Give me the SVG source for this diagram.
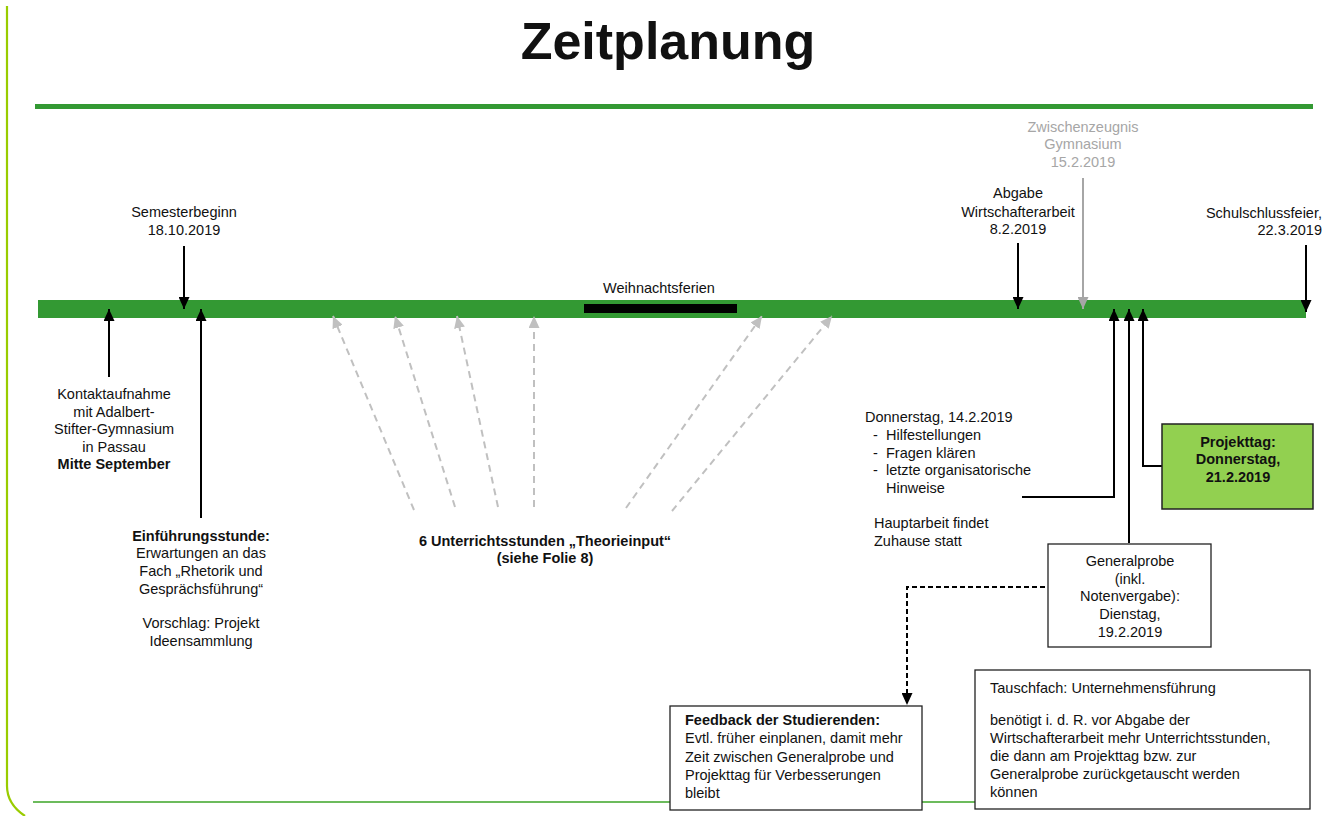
<svg xmlns="http://www.w3.org/2000/svg" width="1343" height="816" viewBox="0 0 1343 816">
<style>
text{font-family:"Liberation Sans",Arial,sans-serif;font-size:14.5px;fill:#111}
.b{font-weight:bold}
.m{text-anchor:middle}
.e{text-anchor:end}
.g{fill:#a6a6a6}
.ln{stroke:#000;stroke-width:2;fill:none}
.dl{stroke:#c0c0c0;stroke-width:2;fill:none;stroke-dasharray:7,5}
.box{fill:#fff;stroke:#222;stroke-width:1.3}
</style>
<defs>
<marker id="ab" viewBox="0 0 12 11" markerWidth="12" markerHeight="11" refX="12" refY="5.5" orient="auto" markerUnits="userSpaceOnUse"><path d="M0,0 L12,5.5 L0,11 z" fill="#000"/></marker>
<marker id="ag" viewBox="0 0 12 11" markerWidth="12" markerHeight="11" refX="12" refY="5.5" orient="auto" markerUnits="userSpaceOnUse"><path d="M0,0 L12,5.5 L0,11 z" fill="#a6a6a6"/></marker>
<marker id="al" viewBox="0 0 12 11" markerWidth="12" markerHeight="11" refX="12" refY="5.5" orient="auto" markerUnits="userSpaceOnUse"><path d="M0,0 L12,5.5 L0,11 z" fill="#c0c0c0"/></marker>
</defs>
<rect width="1343" height="816" fill="#fff"/>
<g id="frame">
<path d="M7,6 V786 Q7,804 25,816" stroke="#99cc00" stroke-width="2.2" fill="none"/>
<line x1="33" y1="802" x2="1305" y2="802" stroke="#6cbb5c" stroke-width="2"/>
<rect x="35" y="104" width="1278" height="5" fill="#339933"/>
</g>
<text class="b m" x="668" y="59" style="font-size:52px">Zeitplanung</text>
<g id="timeline">
<rect x="38" y="300" width="1268" height="18" fill="#339933"/>
<rect x="584" y="304" width="153" height="9" fill="#000"/>
<text class="m" x="659" y="293">Weihnachtsferien</text>
</g>
<g id="connectors">
<line class="ln" x1="184" y1="246" x2="184" y2="309" marker-end="url(#ab)"/>
<line class="ln" x1="109" y1="377" x2="109" y2="309" marker-end="url(#ab)"/>
<line class="ln" x1="201" y1="518" x2="201" y2="309" marker-end="url(#ab)"/>
<line class="dl" x1="414" y1="510" x2="333" y2="316" marker-end="url(#al)"/>
<line class="dl" x1="455" y1="507" x2="395" y2="316" marker-end="url(#al)"/>
<line class="dl" x1="498" y1="507" x2="457" y2="316" marker-end="url(#al)"/>
<line class="dl" x1="534" y1="507" x2="534" y2="316" marker-end="url(#al)"/>
<line class="dl" x1="626" y1="508" x2="762" y2="316" marker-end="url(#al)"/>
<line class="dl" x1="672" y1="511" x2="832" y2="316" marker-end="url(#al)"/>
<line class="ln" x1="1018" y1="243" x2="1018" y2="309" marker-end="url(#ab)"/>
<line x1="1083" y1="178" x2="1083" y2="309" stroke="#a6a6a6" stroke-width="2" marker-end="url(#ag)"/>
<line class="ln" x1="1306" y1="245" x2="1306" y2="312" marker-end="url(#ab)"/>
<polyline class="ln" points="1022,497 1114,497 1114,309" marker-end="url(#ab)"/>
<line class="ln" x1="1129" y1="543" x2="1129" y2="309" marker-end="url(#ab)"/>
<polyline class="ln" points="1162,466 1143,466 1143,309" marker-end="url(#ab)"/>
<polyline points="1045,587 907,587 907,705" stroke="#000" stroke-width="2" fill="none" stroke-dasharray="5,3" marker-end="url(#ab)"/>
</g>
<g id="semesterbeginn">
<text class="m" x="184" y="217">Semesterbeginn</text>
<text class="m" x="184" y="235">18.10.2019</text>
</g>
<g id="kontaktaufnahme">
<text class="m" x="114" y="399">Kontaktaufnahme</text>
<text class="m" x="114" y="417">mit Adalbert-</text>
<text class="m" x="114" y="434">Stifter-Gymnasium</text>
<text class="m" x="114" y="452">in Passau</text>
<text class="b m" x="114" y="469">Mitte September</text>
</g>
<g id="einfuehrung">
<text class="b m" x="201" y="541">Einführungsstunde:</text>
<text class="m" x="201" y="558">Erwartungen an das</text>
<text class="m" x="201" y="576">Fach „Rhetorik und</text>
<text class="m" x="201" y="594">Gesprächsführung“</text>
<text class="m" x="201" y="628">Vorschlag: Projekt</text>
<text class="m" x="201" y="646">Ideensammlung</text>
</g>
<g id="theorieinput">
<text class="b m" x="545" y="546">6 Unterrichtsstunden „Theorieinput“</text>
<text class="b m" x="545" y="563">(siehe Folie 8)</text>
</g>
<g id="abgabe">
<text class="m" x="1018" y="198">Abgabe</text>
<text class="m" x="1018" y="217">Wirtschafterarbeit</text>
<text class="m" x="1018" y="234">8.2.2019</text>
</g>
<g id="zwischenzeugnis">
<text class="m g" x="1083" y="132">Zwischenzeugnis</text>
<text class="m g" x="1083" y="149">Gymnasium</text>
<text class="m g" x="1083" y="167">15.2.2019</text>
</g>
<g id="schulschluss">
<text class="e" x="1322" y="218">Schulschlussfeier,</text>
<text class="e" x="1322" y="235">22.3.2019</text>
</g>
<g id="donnerstag">
<text x="865" y="422">Donnerstag, 14.2.2019</text>
<text x="873" y="440">-</text><text x="886" y="440">Hilfestellungen</text>
<text x="873" y="458">-</text><text x="886" y="458">Fragen klären</text>
<text x="873" y="475">-</text><text x="886" y="475">letzte organisatorische</text>
<text x="886" y="493">Hinweise</text>
<text x="874" y="528">Hauptarbeit findet</text>
<text x="874" y="546">Zuhause statt</text>
</g>
<g id="projekttag">
<rect x="1162" y="424" width="151" height="85" fill="#92d050" stroke="#222" stroke-width="1.5"/>
<text class="b m" x="1238" y="447">Projekttag:</text>
<text class="b m" x="1238" y="464">Donnerstag,</text>
<text class="b m" x="1238" y="482">21.2.2019</text>
</g>
<g id="generalprobe">
<rect class="box" x="1048" y="544" width="163" height="103"/>
<text class="m" x="1130" y="566">Generalprobe</text>
<text class="m" x="1130" y="584">(inkl.</text>
<text class="m" x="1130" y="601">Notenvergabe):</text>
<text class="m" x="1130" y="619">Dienstag,</text>
<text class="m" x="1130" y="637">19.2.2019</text>
</g>
<g id="feedback">
<rect class="box" x="670" y="706" width="252" height="104"/>
<text class="b" x="685" y="725">Feedback der Studierenden:</text>
<text x="685" y="743">Evtl. früher einplanen, damit mehr</text>
<text x="685" y="762">Zeit zwischen Generalprobe und</text>
<text x="685" y="780">Projekttag für Verbesserungen</text>
<text x="685" y="798">bleibt</text>
</g>
<g id="tauschfach">
<rect class="box" x="975" y="670" width="335" height="139"/>
<text x="990" y="693">Tauschfach: Unternehmensführung</text>
<text x="990" y="725">benötigt i. d. R. vor Abgabe der</text>
<text x="990" y="743">Wirtschafterarbeit mehr Unterrichtsstunden,</text>
<text x="990" y="761">die dann am Projekttag bzw. zur</text>
<text x="990" y="779">Generalprobe zurückgetauscht werden</text>
<text x="990" y="797">können</text>
</g>
</svg>
